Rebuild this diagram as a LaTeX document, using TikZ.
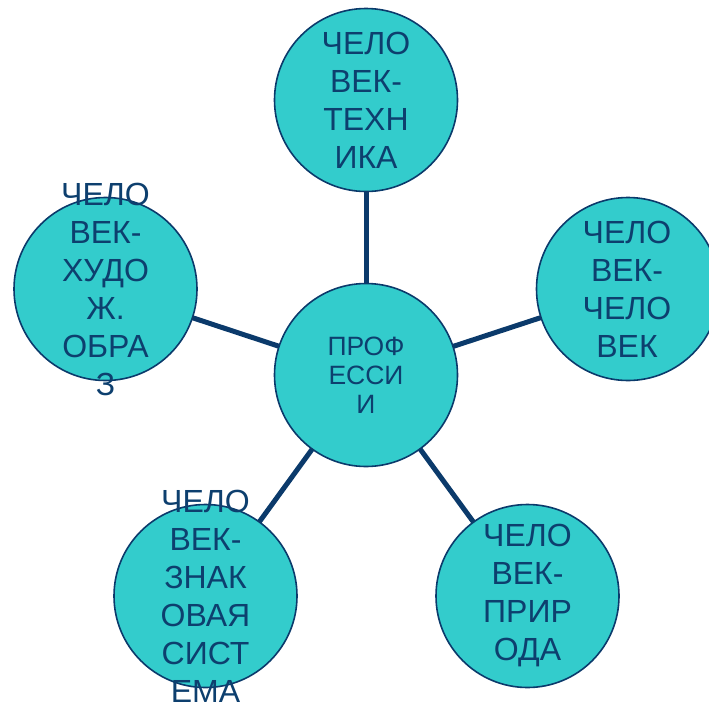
\documentclass[tikz,border=0pt]{standalone}
\usepackage{fontspec}
\setmainfont{Liberation Sans}
\usetikzlibrary{backgrounds}
\definecolor{fillc}{HTML}{33CCCC}
\definecolor{navy}{HTML}{0B3A6B}
\definecolor{txt}{HTML}{0D3F6E}
\begin{document}
\begin{tikzpicture}[x=1pt,y=-1pt,
  circ/.style={circle,draw=navy,line width=1.6pt,fill=fillc,minimum size=183pt,inner sep=0pt},
  lbl/.style={text=txt,align=center,font=\fontsize{32}{38}\selectfont},
  clbl/.style={text=txt,align=center,font=\fontsize{26.5}{29}\selectfont},
  conn/.style={draw=navy,line width=5pt}]
\useasboundingbox (0,0) rectangle (709,707);
\node[circ] (c) at (366,375) {};
\node[circ] (t) at (366,100) {};
\node[circ] (r) at (628,289) {};
\node[circ] (l) at (105.5,289) {};
\node[circ] (bl) at (205.5,596) {};
\node[circ] (br) at (527.5,596) {};
\begin{scope}[on background layer]
\draw[conn] (c.center) -- (t.center);
\draw[conn] (c.center) -- (r.center);
\draw[conn] (c.center) -- (l.center);
\draw[conn] (c.center) -- (bl.center);
\draw[conn] (c.center) -- (br.center);
\end{scope}
\node[clbl] (ct) at (366,375) {ПРОФ\\ЕССИ\\И};
\node[lbl] (tt) at (366,100) {ЧЕЛО\\ВЕК-\\ТЕХН\\ИКА};
\node[lbl] (rt) at (627,289) {ЧЕЛО\\ВЕК-\\ЧЕЛО\\ВЕК};
\node[lbl] (lt) at (105.5,289) {ЧЕЛО\\ВЕК-\\ХУДО\\Ж.\\ОБРА\\З};
\node[lbl] (blt) at (205.5,596) {ЧЕЛО\\ВЕК-\\ЗНАК\\ОВАЯ\\СИСТ\\ЕМА};
\node[lbl] (brt) at (527.5,596) {ЧЕЛО\\ВЕК-\\ПРИР\\ОДА};
\end{tikzpicture}
\end{document}
